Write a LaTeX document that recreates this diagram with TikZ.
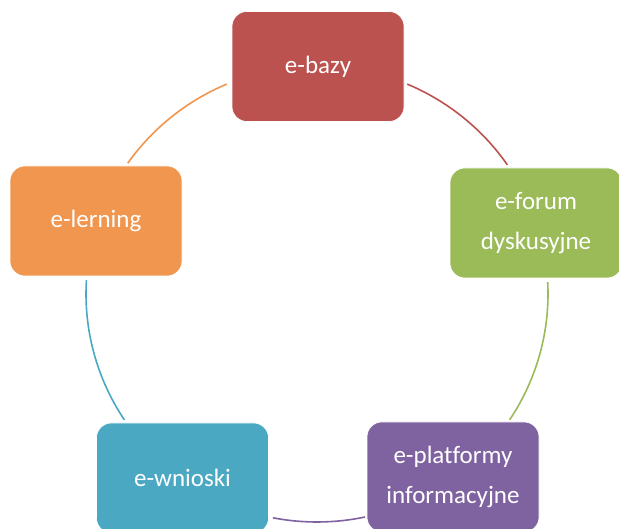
\documentclass[tikz,border=0pt]{standalone}
\usepackage{fontspec}
\setmainfont{Carlito}[Ligatures=NoCommon]
\definecolor{cred}{HTML}{BC524F}
\definecolor{cgreen}{HTML}{9BBB59}
\definecolor{cpurple}{HTML}{7F63A1}
\definecolor{cteal}{HTML}{4BA8C3}
\definecolor{corange}{HTML}{F0964F}
\tikzset{
  box/.style={rectangle, rounded corners=15pt, minimum width=172pt, minimum height=110pt,
    inner sep=0pt, draw=white, line width=0.6pt, text=white, align=center,
    font=\fontsize{25}{40}\selectfont},
  link/.style={line width=1.6pt}
}
\begin{document}
\begin{tikzpicture}[x=1pt,y=1pt]
\useasboundingbox (0,0) rectangle (619,529);
\clip (0,0) rectangle (619,529);
\fill[white] (0,0) rectangle (619,529);
\coordinate (c) at (317,235);
\draw[link, cred] (c) ++(67:231 and 228) arc[start angle=67, end angle=34.5, x radius=231, y radius=228];
\draw[link, cgreen] (c) ++(3:231 and 228) arc[start angle=3, end angle=-33.5, x radius=231, y radius=228];
\draw[link, cpurple] (c) ++(-78:231 and 228) arc[start angle=-78, end angle=-101, x radius=231, y radius=228];
\draw[link, cteal] (c) ++(-146.5:231 and 228) arc[start angle=-146.5, end angle=-183.5, x radius=231, y radius=228];
\draw[link, corange] (c) ++(145:231 and 228) arc[start angle=145, end angle=113, x radius=231, y radius=228];
\node[box, fill=cred] (bazy) at (318,462.5) {e-bazy};
\node[box, fill=cgreen] (forum) at (536,306) {e-forum\\dyskusyjne};
\node[box, fill=cpurple] (platformy) at (453,52) {e-platformy\\informacyjne};
\node[box, fill=cteal] (wnioski) at (182.5,51) {e-wnioski};
\node[box, fill=corange] (lerning) at (96,308) {e-lerning};
\end{tikzpicture}
\end{document}
